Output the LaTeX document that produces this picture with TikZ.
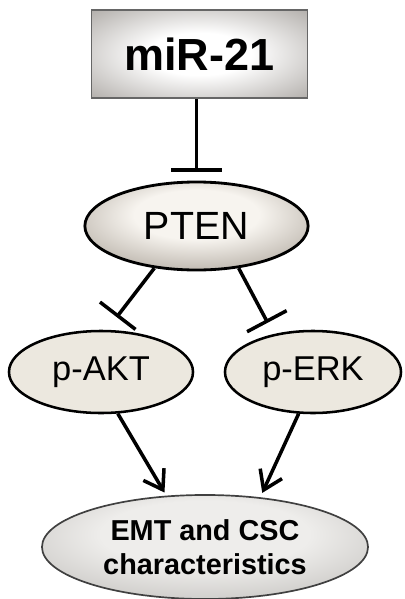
\documentclass[tikz,border=0pt]{standalone}
\usepackage{fontspec}
\setmainfont{Liberation Sans}
\usepackage{xcolor}
\usepackage{tikz}
\usetikzlibrary{arrows.meta,shapes.geometric}

\definecolor{boxgray}{RGB}{132,126,120}
\definecolor{ptenbrown}{RGB}{124,113,100}
\definecolor{ptenlight}{RGB}{247,244,239}
\definecolor{kinasebeige}{RGB}{236,232,223}
\definecolor{emtgray}{RGB}{165,162,158}
\definecolor{emtlight}{RGB}{238,237,235}

\pgfdeclareradialshading{boxshade}{\pgfpoint{0bp}{0bp}}{color(0bp)=(white); color(12bp)=(white); color(50bp)=(boxgray); color(72bp)=(boxgray)}
\pgfdeclareradialshading{ptenshade}{\pgfpoint{0bp}{8bp}}{color(0bp)=(ptenlight); color(14bp)=(ptenlight); color(50bp)=(ptenbrown); color(72bp)=(ptenbrown)}
\pgfdeclareradialshading{emtshade}{\pgfpoint{0bp}{8bp}}{color(0bp)=(emtlight); color(16bp)=(emtlight); color(50bp)=(emtgray); color(72bp)=(emtgray)}

\begin{document}
\begin{tikzpicture}[x=0.025cm, y=-0.025cm,
regbox/.style={rectangle, draw=black!60, line width=1.1pt, minimum width=5.4cm, minimum height=2.2cm, shading=boxshade, font=\bfseries\fontsize{32}{36}\selectfont},
oval/.style={ellipse, draw, inner sep=0pt, align=center},
kinase/.style={oval, line width=1.8pt, fill=kinasebeige, minimum height=2.05cm, font=\fontsize{24.5}{28}\selectfont},
inhib/.style={-{Bar[width=#1]}, line width=2.5pt},
act/.style={-{Straight Barb[length=0.45cm, width=0.6cm]}, line width=2.5pt}
]
\useasboundingbox (0,0) rectangle (404,599);

% Regulator
\node[regbox] (mir) at (199.5,54) {miR-21};

% Target
\node[oval, line width=2pt, shading=ptenshade, minimum width=5.58cm, minimum height=2.2cm, font=\fontsize{28}{32}\selectfont] (pten) at (196.5,226) {PTEN};

% Kinases
\node[kinase, minimum width=4.6cm] (akt) at (101,372) {p-AKT};
\node[kinase, minimum width=4.4cm] (erk) at (313,372) {p-ERK};

% Outcome
\node[oval, draw=black!75, line width=1.2pt, shading=emtshade, minimum width=8.15cm, minimum height=2.6cm, font=\bfseries\fontsize{20.5}{24.5}\selectfont] (emt) at (205,547) {EMT and CSC\\characteristics};

% Inhibitions
\draw[inhib=1.25cm, shorten >=0.22cm] (mir.south -| pten.north) -- (pten.north);
\draw[inhib=1.12cm, shorten >=0.4cm] (pten.-135.5) -- (akt.82);
\draw[inhib=1.12cm, shorten >=0.32cm] (pten.-45.4) -- (erk.136.5);

% Activations
\draw[act, shorten >=0.09cm] (akt.-68) -- (emt.127.7);
\draw[act, shorten >=0.12cm] (erk.-109) -- (emt.42.8);

\end{tikzpicture}
\end{document}
